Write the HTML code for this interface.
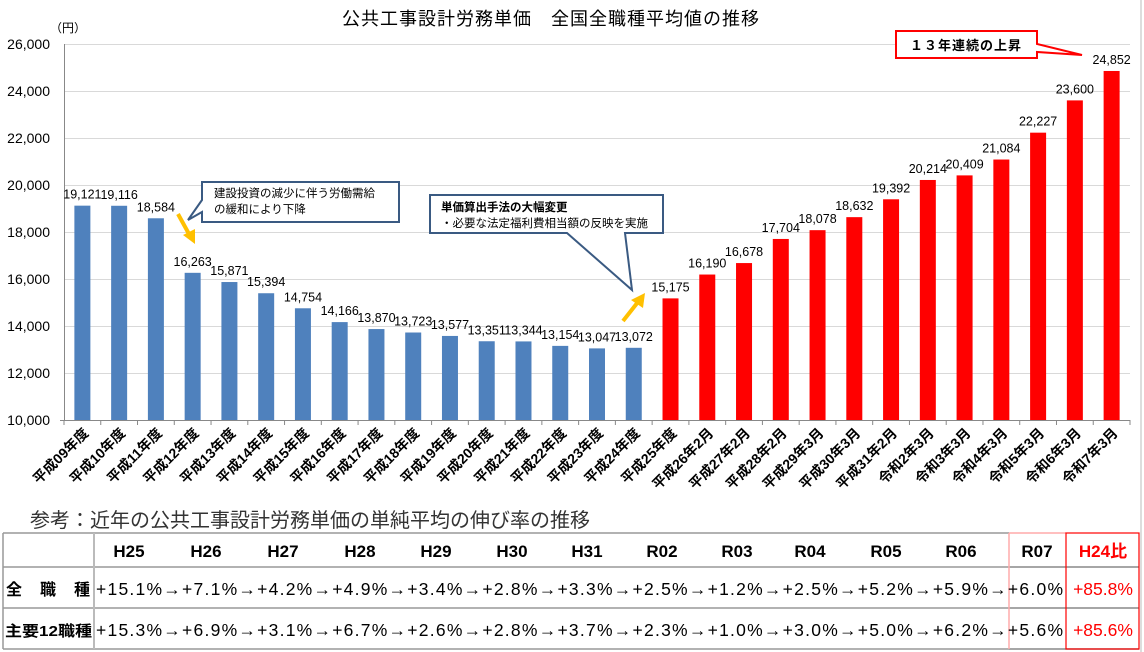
<!DOCTYPE html>
<html><head><meta charset="utf-8"><style>
html,body{margin:0;padding:0;background:#fff;}
svg{display:block;font-family:"Liberation Sans","Noto Sans CJK JP",sans-serif;}
</style></head><body>
<svg width="1144" height="652" viewBox="0 0 1144 652" xmlns="http://www.w3.org/2000/svg">
<rect width="1144" height="652" fill="#fff"/>
<line x1="1141" y1="0" x2="1141" y2="652" stroke="#ddd" stroke-width="2"/>
<text x="551" y="25" font-size="18" text-anchor="middle" fill="#000" letter-spacing="1">公共工事設計労務単価　全国全職種平均値の推移</text>
<text x="50" y="32" font-size="12" fill="#000">（円）</text>
<g stroke="#d9d9d9" stroke-width="1">
<line x1="64" y1="44.5" x2="1130" y2="44.5"/><line x1="64" y1="91.5" x2="1130" y2="91.5"/>
<line x1="64" y1="138.5" x2="1130" y2="138.5"/><line x1="64" y1="185.5" x2="1130" y2="185.5"/>
<line x1="64" y1="232.5" x2="1130" y2="232.5"/><line x1="64" y1="279.5" x2="1130" y2="279.5"/>
<line x1="64" y1="326.5" x2="1130" y2="326.5"/><line x1="64" y1="373.5" x2="1130" y2="373.5"/>
</g>
<g font-size="14" text-anchor="end" fill="#000">
<text x="50" y="49">26,000</text><text x="50" y="96">24,000</text><text x="50" y="143">22,000</text>
<text x="50" y="190">20,000</text><text x="50" y="237">18,000</text><text x="50" y="284">16,000</text>
<text x="50" y="331">14,000</text><text x="50" y="378">12,000</text><text x="50" y="425">10,000</text>
</g>
<g id="bars"></g>
<line x1="64.5" y1="44" x2="64.5" y2="420" stroke="#888"/>
<line x1="60" y1="420.5" x2="1130" y2="420.5" stroke="#888"/>
<g id="ticks" stroke="#888"></g>
<g id="vals" font-size="12.5" text-anchor="middle" fill="#000"></g>
<g id="cats" font-size="14" font-weight="bold" text-anchor="end" fill="#000"></g>

<path d="M202,182 H399 V222 H202 V212 L188,220 L202,200 Z" fill="#fff" stroke="#3a5a82" stroke-width="2"/>
<text x="214" y="197" font-size="11.5" fill="#000">建設投資の減少に伴う労働需給</text>
<text x="214" y="213" font-size="11.5" fill="#000">の緩和により下降</text>
<path d="M178,214 L189,234" stroke="#ffc000" stroke-width="4"/>
<path d="M183,235 L195,244 L195,229 Z" fill="#ffc000"/>
<path d="M430,195 H663 V233 H625 L632,290 L567,233 H430 Z" fill="#fff" stroke="#3a5a82" stroke-width="2"/>
<text x="441" y="211" font-size="11.5" font-weight="bold" fill="#000">単価算出手法の大幅変更</text>
<text x="441" y="227" font-size="11.5" fill="#000">・必要な法定福利費相当額の反映を実施</text>
<path d="M623,321 L638,302" stroke="#ffc000" stroke-width="4"/>
<path d="M631,300 L645,293 L643,308 Z" fill="#ffc000"/>
<path d="M896,31 H1037 V44 L1082,55 L1037,52 V58 H896 Z" fill="#fff" stroke="#ff0000" stroke-width="2"/>
<text x="966" y="50" font-size="13" font-weight="bold" text-anchor="middle" fill="#000" letter-spacing="1">１３年連続の上昇</text>

<text x="30" y="527" font-size="20" fill="#333">参考：近年の公共工事設計労務単価の単純平均の伸び率の推移</text>
<g stroke="#999" stroke-width="1.5">
<line x1="3" y1="533" x2="1009" y2="533"/>
<line x1="3" y1="567" x2="1009" y2="567"/>
<line x1="3" y1="608" x2="1009" y2="608"/>
<line x1="3" y1="649" x2="1009" y2="649"/>
<line x1="3" y1="533" x2="3" y2="649"/>
<line x1="94" y1="533" x2="94" y2="649" stroke="#bbb" stroke-width="2"/>
</g>
<g stroke="#888" stroke-width="1.5">
<line x1="1009" y1="567" x2="1139" y2="567"/><line x1="1009" y1="608" x2="1139" y2="608"/><line x1="1009" y1="649" x2="1139" y2="649"/>
</g>
<line x1="1009" y1="533" x2="1066" y2="533" stroke="#ffaaaa" stroke-width="1.5"/>
<line x1="1009" y1="533" x2="1009" y2="649" stroke="#ffaaaa" stroke-width="1.5"/>
<rect x="1066" y="533" width="73" height="116" fill="none" stroke="#ff0000" stroke-width="1.2"/>
<g font-size="17" font-weight="bold" text-anchor="middle" fill="#000">
<text x="129" y="557">H25</text><text x="206" y="557">H26</text><text x="283" y="557">H27</text>
<text x="360" y="557">H28</text><text x="436" y="557">H29</text><text x="512" y="557">H30</text>
<text x="587" y="557">H31</text><text x="662" y="557">R02</text><text x="737" y="557">R03</text>
<text x="810" y="557">R04</text><text x="886" y="557">R05</text><text x="961" y="557">R06</text>
<text x="1037" y="557">R07</text><text x="1103" y="557" fill="#ff0000">H24比</text>
</g>
<text x="6" y="595" font-size="16" font-weight="bold" fill="#000" textLength="84" lengthAdjust="spacing">全　職　種</text>
<text x="5" y="636" font-size="15" font-weight="bold" fill="#000" textLength="87" lengthAdjust="spacingAndGlyphs">主要12職種</text>
<text x="96" y="595" font-size="17.5" fill="#000" textLength="967" lengthAdjust="spacing">+15.1%→+7.1%→+4.2%→+4.9%→+3.4%→+2.8%→+3.3%→+2.5%→+1.2%→+2.5%→+5.2%→+5.9%→+6.0%</text>
<text x="96" y="636" font-size="17.5" fill="#000" textLength="967" lengthAdjust="spacing">+15.3%→+6.9%→+3.1%→+6.7%→+2.6%→+2.8%→+3.7%→+2.3%→+1.0%→+3.0%→+5.0%→+6.2%→+5.6%</text>
<text x="1103" y="595" font-size="17.5" text-anchor="middle" fill="#ff0000">+85.8%</text>
<text x="1103" y="636" font-size="17.5" text-anchor="middle" fill="#ff0000">+85.6%</text>

<script>
(function(){
var v=[19121,19116,18584,16263,15871,15394,14754,14166,13870,13723,13577,13351,13344,13154,13047,13072,15175,16190,16678,17704,18078,18632,19392,20214,20409,21084,22227,23600,24852];
var c=["平成09年度","平成10年度","平成11年度","平成12年度","平成13年度","平成14年度","平成15年度","平成16年度","平成17年度","平成18年度","平成19年度","平成20年度","平成21年度","平成22年度","平成23年度","平成24年度","平成25年度","平成26年2月","平成27年2月","平成28年2月","平成29年3月","平成30年3月","平成31年2月","令和2年3月","令和3年3月","令和4年3月","令和5年3月","令和6年3月","令和7年3月"];
var ns="http://www.w3.org/2000/svg",w=1066/29;
function el(t,a,p,txt){var e=document.createElementNS(ns,t);for(var k in a)e.setAttribute(k,a[k]);if(txt)e.textContent=txt;document.getElementById(p).appendChild(e);}
for(var i=0;i<29;i++){
 var cx=64+w*(i+0.5),y=420-(v[i]-10000)*0.0235;
 el("rect",{x:cx-8,y:y,width:16,height:420-y,fill:i<16?"#4f81bd":"#ff0000"},"bars");
 el("line",{x1:64+w*i,y1:420,x2:64+w*i,y2:425},"ticks");
 var s=v[i].toString().replace(/(\d)(\d{3})$/,"$1,$2");
 el("text",{x:cx,y:y-7},"vals",s);
 el("text",{x:cx+7,y:434,transform:"rotate(-45 "+(cx+7)+" 434)"},"cats",c[i]);
}
el("line",{x1:1130,y1:420,x2:1130,y2:425},"ticks");
})();
</script>
</svg>
</body></html>
